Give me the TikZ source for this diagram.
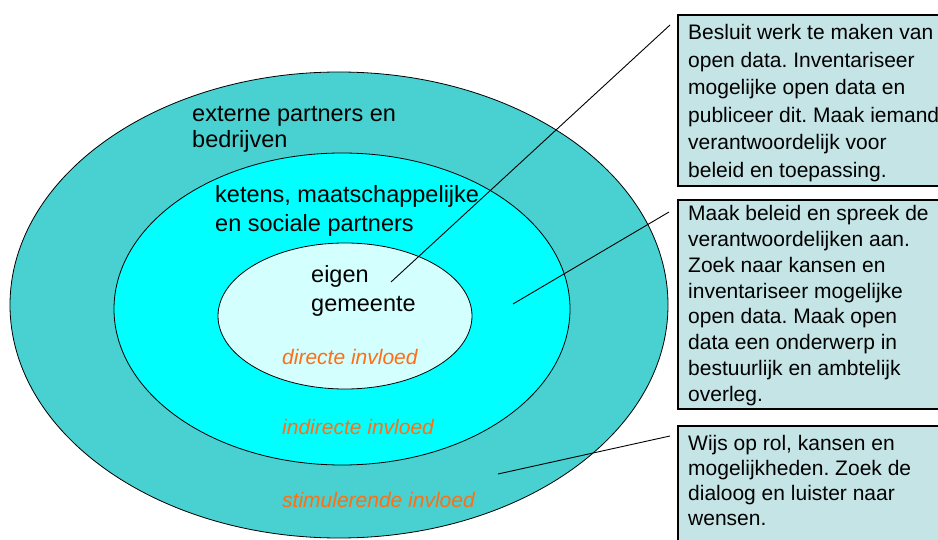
\documentclass[tikz,border=0pt]{standalone}
\usepackage{fontspec}
\setmainfont{Liberation Sans}
\usetikzlibrary{positioning}
\frenchspacing

\definecolor{ringout}{RGB}{72,209,208}
\definecolor{ringmid}{RGB}{0,255,255}
\definecolor{ringin}{RGB}{212,255,255}
\definecolor{notefill}{RGB}{196,228,230}
\definecolor{inflcol}{RGB}{255,110,20}

\begin{document}
\begin{tikzpicture}[x=1pt,y=-1pt]
    \tikzset{
    ring/.style={draw=black, line width=0.8pt},
    lbl/.style={anchor=base west, inner sep=0pt, align=left},
    infl/.style={anchor=base west, inner sep=0pt, text=inflcol, font=\itshape\fontsize{21}{25}\selectfont},
    note/.style={draw=black, line width=1.8pt, fill=notefill, anchor=north west, minimum width=290pt, inner sep=0pt},
    c1/.style={-, line width=0.9pt},
    }
    \useasboundingbox (0,0) rectangle (938,540);
    \clip (0,0) rectangle (938,540);
    \fill[white] (0,0) rectangle (938,540);

    % rings
    \draw[ring, fill=ringout] (339,305) ellipse [x radius=329pt, y radius=233pt];
    \draw[ring, fill=ringmid] (342,309) ellipse [x radius=228pt, y radius=156pt];
    \draw[ring, fill=ringin] (345,316) ellipse [x radius=127pt, y radius=73pt];

    \node[lbl, font=\fontsize{23.5}{26.5}\selectfont] (ext) at (192,148) {externe partners en\\bedrijven};
    \node[lbl, font=\fontsize{23.5}{28.5}\selectfont] (ket) at (215,231.5) {ketens, maatschappelijke\\en sociale partners};
    \node[lbl, font=\fontsize{23.5}{29}\selectfont] (eig) at (311,312) {eigen\\gemeente};

    \node[infl] (dir) at (282,364) {directe invloed};
    \node[infl] (ind) at (282,434) {indirecte invloed};
    \node[infl] (sti) at (282,507) {stimulerende invloed};

    % notes
    \node[note, minimum height=171pt] (b1) at (677,14) {};
    \node[note, minimum height=209pt] (b2) at (677,199) {};
    \node[note, minimum height=160pt] (b3) at (677,425) {};

    \node[lbl, font=\fontsize{21}{27.6}\selectfont] (t1) at (688,177.5) {Besluit werk te maken van\\open data. Inventariseer\\mogelijke open data en\\publiceer dit. Maak iemand\\verantwoordelijk voor\\beleid en toepassing.};
    \node[lbl, font=\fontsize{21}{25.9}\selectfont] (t2) at (688,401.7) {Maak beleid en spreek de\\verantwoordelijken aan.\\Zoek naar kansen en\\inventariseer mogelijke\\open data. Maak open\\data een onderwerp in\\bestuurlijk en ambtelijk\\overleg.};
    \node[lbl, font=\fontsize{21}{25}\selectfont] (t3) at (688,525) {Wijs op rol, kansen en\\mogelijkheden. Zoek de\\dialoog en luister naar\\wensen.};

    % pointers
    \coordinate (p1) at (391,282);
    \coordinate (q1) at (670,25);
    \coordinate (p2) at (513,304);
    \coordinate (q2) at (669,212);
    \coordinate (p3) at (498,474);
    \coordinate (q3) at (670,436);
    \draw[c1] (p1) -- (q1);
    \draw[c1] (p2) -- (q2);
    \draw[c1] (p3) -- (q3);

\end{tikzpicture}
\end{document}
